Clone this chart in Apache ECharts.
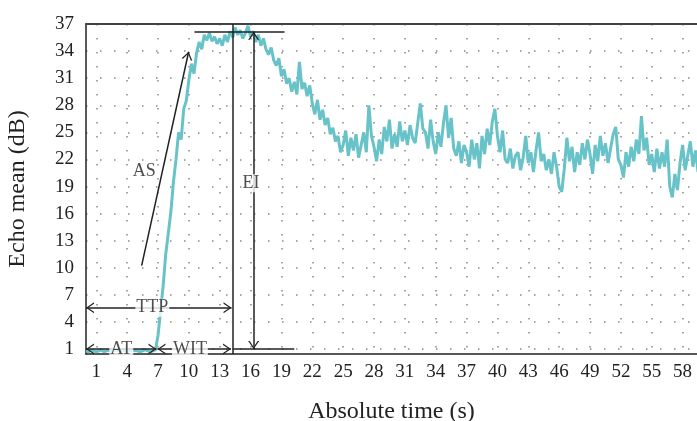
<!DOCTYPE html>
<html>
<head>
<meta charset="utf-8">
<script src="https://cdn.jsdelivr.net/npm/echarts@6/dist/echarts.min.js"></script>
<style>
html, body { margin: 0; padding: 0; background: #fff; }
#chart { width: 697px; height: 421px; }
</style>
</head>
<body>
<div id="chart"></div>
<script>
// sampling: one value every 0.25 s, starting at 0 s
var t0 = 0;
var dt = 0.25;

// echo mean (dB), 4 samples per second
var echoMean = [
    0.8, 0.7, 0.9, 0.8,   0.7, 0.8, 0.9, 0.7,   0.8, 0.9, 0.7, 0.8,   0.9, 0.7, 0.8, 0.8,
    0.7, 0.8, 0.9, 0.8,   0.8, 0.7, 0.8, 0.9,   0.8, 0.7, 0.8, 0.9,   2.5, 5.2, 8.0, 11.5,
    13.8, 16.2, 19.5, 22.0,   25.0, 24.2, 27.6, 28.5,   30.8, 32.6, 31.5, 33.8,   35.0, 34.2, 35.8, 35.2,
    36.0, 35.1, 35.6, 34.8,   35.4, 34.6, 35.8, 35.0,   36.2, 35.5, 36.6, 35.8,   36.3, 35.4, 36.0, 36.8,
    35.6, 36.2, 35.0, 35.8,   34.6, 35.4, 34.2, 33.6,   34.4, 33.0, 32.4, 33.2,   31.2, 32.0, 30.4, 31.0,
    29.5, 30.6, 29.2, 32.8,   29.8, 30.5, 29.0, 30.2,   28.2, 27.0, 28.6, 26.4,   27.5, 25.8, 26.6, 24.8,
    25.5, 24.0, 24.6, 22.8,   23.6, 25.2, 22.4, 24.4,   23.0, 24.8, 22.2, 23.6,   25.0, 22.8, 28.0, 24.6,
    23.4, 21.8, 24.2, 22.6,   25.6, 24.0, 26.4, 23.2,   24.8, 23.4, 26.2, 24.0,   25.2, 23.6, 25.8, 24.4,
    23.8, 26.0, 28.2, 25.4,   25.0, 23.2, 26.4, 24.0,   22.6, 25.0, 23.4, 26.0,   28.0, 24.4, 26.6, 23.2,
    22.4, 24.0, 21.6, 23.6,   22.8, 21.2, 24.2, 22.0,   23.8, 21.0, 24.6, 22.6,   25.4, 23.6, 26.2, 27.6,
    24.6, 22.8, 25.2, 22.0,   21.6, 23.2, 21.0, 22.4,   22.8, 20.8, 22.2, 24.6,   21.6, 22.8, 20.6, 23.0,
    25.0, 21.8, 22.6, 20.8,   22.0, 20.4, 22.8, 21.2,   19.0, 18.4, 21.0, 24.4,   21.8, 23.4, 20.6, 22.8,
    21.4, 23.8, 22.0, 24.2,   22.6, 20.4, 23.6, 21.8,   24.6, 22.4, 23.8, 21.6,   23.2, 24.8, 25.6, 22.0,
    21.4, 20.0, 22.8, 21.2,   23.4, 21.8, 24.2, 22.6,   26.8, 23.0, 24.4, 21.4,   22.6, 20.6, 23.2, 21.0,
    22.8, 21.2, 24.2, 19.0,   17.8, 20.4, 18.6, 21.6,   23.6, 20.8, 22.4, 24.0,   21.2, 23.0, 20.6
];

var xTicks = [1, 4, 7, 10, 13, 16, 19, 22, 25, 28, 31, 34, 37, 40, 43, 46, 49, 52, 55, 58];
var yTicks = [1, 4, 7, 10, 13, 16, 19, 22, 25, 28, 31, 34, 37];

// annotation marks in data units (time s, echo dB)
var atStart = 0, atEnd = 6.85;
var witStart = 6.95, witEnd = 14.1;
var ttpY = 5.58, ttpEnd = 14.15;
var peakX = 14.26;
var eiX = 16.3, eiTop = 36.15, eiBottom = 1.0;
var topLine = [10.55, 19.3];
var baseLineEnd = 20.25;
var asFrom = [5.41, 10.23], asTo = [9.98, 33.93];

var labelPoints = [
    { name: 'AT', value: [3.43, 1.0], bg: true },
    { name: 'WIT', value: [10.1, 1.0], bg: true },
    { name: 'TTP', value: [6.45, 5.58], bg: true },
    { name: 'AS', value: [5.67, 20.65], bg: false },
    { name: 'EI', value: [16.05, 19.36], bg: true }
];

var points = [];
for (var i = 0; i < echoMean.length; i++) {
    points.push([t0 + i * dt, echoMean[i]]);
}

var serif = '"Liberation Serif", "DejaVu Serif", serif';
// open arrow head, tip sits at the centre of the symbol box so it touches the end point
var chev = 'path://M5,0 L5.01,0 L5,0.01 Z M0,20 L5,10 L10,20 L8.6,20 L5,12.6 L1.4,20 Z';
var headSize = [11, 16];

function arrowLine(a, b, headA, headB) {
    return [
        { coord: a, symbol: headA ? chev : 'none', symbolSize: headSize },
        { coord: b, symbol: headB ? chev : 'none', symbolSize: headSize }
    ];
}

var option = {
    animation: false,
    grid: { left: 86, right: 0, top: 24, bottom: 67, containLabel: false, outerBoundsMode: 'none' },
    xAxis: [{
        type: 'value',
        min: 0,
        max: 59.4,
        name: 'Absolute time (s)',
        nameLocation: 'middle',
        nameGap: 46,
        nameTextStyle: { fontFamily: serif, fontSize: 24, color: '#222' },
        axisLine: { show: true, lineStyle: { color: '#222', width: 1.5 } },
        axisTick: { show: false, customValues: xTicks },
        axisLabel: { customValues: xTicks, fontFamily: serif, fontSize: 19, color: '#222', margin: 9 },
        splitLine: { show: true, lineStyle: { color: '#888', width: 1.5, type: [1.5, 12.5] } }
    }, {
        type: 'value',
        position: 'top',
        min: 0,
        max: 59.4,
        axisLine: { show: true, lineStyle: { color: '#444', width: 2 } },
        axisTick: { show: false },
        axisLabel: { show: false },
        splitLine: { show: false }
    }],
    yAxis: {
        type: 'value',
        min: 0.45,
        max: 37,
        name: 'Echo mean (dB)',
        nameLocation: 'middle',
        nameGap: 56,
        nameTextStyle: { fontFamily: serif, fontSize: 24, color: '#222' },
        axisLine: { show: true, lineStyle: { color: '#222', width: 1.5 } },
        axisTick: { show: false, customValues: yTicks },
        axisLabel: { customValues: yTicks, fontFamily: serif, fontSize: 19, color: '#222', margin: 12 },
        splitLine: { show: true, lineStyle: { color: '#888', width: 1.5, type: [1.5, 12.5] } }
    },
    series: [{
        name: 'Echo mean',
        type: 'line',
        data: points,
        showSymbol: false,
        lineStyle: { color: '#68c3c9', width: 3 },
        itemStyle: { color: '#68c3c9' },
        markLine: {
            silent: true,
            label: { show: false },
            lineStyle: { color: '#222', width: 1.5, type: 'solid' },
            data: [
                arrowLine([peakX, 0.45], [peakX, 37], false, false),
                arrowLine([topLine[0], eiTop], [topLine[1], eiTop], false, false),
                arrowLine([peakX, 1.0], [baseLineEnd, 1.0], false, false),
                arrowLine([atStart, 1.0], [atEnd, 1.0], true, true),
                arrowLine([witStart, 1.0], [witEnd, 1.0], true, true),
                arrowLine([0, ttpY], [ttpEnd, ttpY], true, true),
                arrowLine([eiX, eiBottom], [eiX, eiTop], true, true),
                arrowLine(asFrom, asTo, false, true)
            ]
        }
    }, {
        name: 'labels',
        type: 'scatter',
        symbolSize: 0,
        silent: true,
        z: 5,
        data: labelPoints.map(function (p) {
            return {
                name: p.name,
                value: p.value,
                label: {
                    show: true,
                    position: 'inside',
                    formatter: '{b}',
                    fontFamily: serif,
                    fontSize: 18,
                    color: '#222',
                    backgroundColor: p.bg ? '#fff' : 'transparent',
                    padding: [0, 1]
                }
            };
        })
    }]
};

var myChart = echarts.init(document.getElementById('chart'));
myChart.setOption(option);
</script>
</body>
</html>
